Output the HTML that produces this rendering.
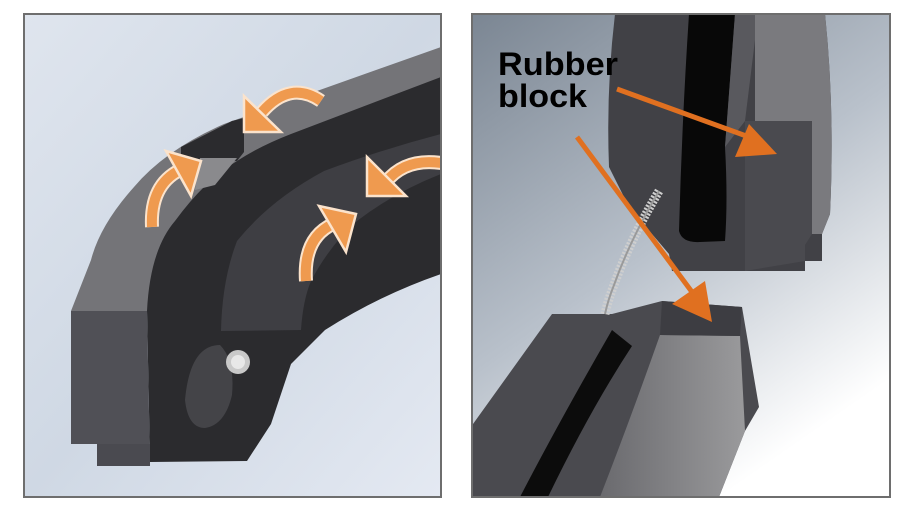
<!DOCTYPE html>
<html><head><meta charset="utf-8"><style>
html,body{margin:0;padding:0;background:#fff;width:902px;height:523px;overflow:hidden}
svg{display:block}
</style></head><body>
<svg width="902" height="523" viewBox="0 0 902 523" xmlns="http://www.w3.org/2000/svg">
<defs>
<linearGradient id="lbg" x1="0" y1="0" x2="1" y2="1">
<stop offset="0" stop-color="#dfe5ee"/><stop offset="0.5" stop-color="#cfd8e4"/><stop offset="1" stop-color="#e4e9f2"/></linearGradient>
<linearGradient id="rbg" x1="0" y1="0" x2="0.6" y2="1">
<stop offset="0" stop-color="#7b8693"/><stop offset="0.55" stop-color="#b9c1cb"/><stop offset="1" stop-color="#ffffff"/></linearGradient>
<linearGradient id="bface" x1="0" y1="0" x2="1" y2="0">
<stop offset="0" stop-color="#6a6a6e"/><stop offset="1" stop-color="#9a9a9c"/></linearGradient>
<clipPath id="cl"><rect x="25" y="15" width="415" height="481"/></clipPath>
<clipPath id="cr"><rect x="473" y="15" width="416" height="481"/></clipPath>
</defs>

<g clip-path="url(#cl)">
<rect x="25" y="15" width="415" height="481" fill="url(#lbg)"/>
<path d="M147 311 L150 462 L247 461 L271 424 L291 364 L325 330 Q380 295 441 274 L441 70 L232 121 L181 147 Q150 180 147 230 Z" fill="#2b2b2e"/>
<path d="M71 311 L147 311 Q150 250 175 221 Q205 180 237 161 Q260 146 291 134 L441 77 L441 47 L224 124 Q165 150 134 187 Q100 225 91 260 Z" fill="#747478"/>
<path d="M181 147 L232 121 L244 118 L244 152 L237 161 L181 160 Z" fill="#2b2b2e"/>
<path d="M200 158 L237 158 L215 185 L195 190 Z" fill="#8a8a8d"/>
<path d="M221 331 L301 330 Q303 300 311 281 Q330 245 357 221 Q395 192 441 174 L441 134 Q380 150 324 171 Q270 200 237 241 Q222 280 221 331 Z" fill="#3e3e43"/>
<path d="M71 311 L147 311 L150 462 L97 466 L97 444 L71 444 Z" fill="#505056"/>
<rect x="97" y="444" width="53" height="22" fill="#4a4a50"/>
<path d="M185 400 Q190 345 220 345 Q235 360 232 395 Q225 425 205 428 Q188 428 185 400 Z" fill="#444448"/>
<circle cx="238" cy="362" r="12" fill="#c9c9c9"/>
<circle cx="238" cy="362" r="7" fill="#e8e8e8"/>
<g fill="none" stroke="#fbe3cc" stroke-width="14" stroke-linecap="butt">
<path d="M321 101 Q290 80 262 112"/>
<path d="M152 227 Q150 185 180 170"/>
<path d="M441 163 Q405 158 386 182"/>
<path d="M306 281 Q303 238 333 224"/>
</g>
<g fill="none" stroke="#ef9a4f" stroke-width="10" stroke-linecap="butt">
<path d="M321 101 Q290 80 262 112"/>
<path d="M152 227 Q150 185 180 170"/>
<path d="M441 163 Q405 158 386 182"/>
<path d="M306 281 Q303 238 333 224"/>
</g>
<g fill="#ef9a4f" stroke="#fbe3cc" stroke-width="2.5" stroke-linejoin="miter">
<polygon points="244,96 244,132 281,132"/>
<polygon points="166,151 201,161 191,196"/>
<polygon points="367,157 367,196 406,196"/>
<polygon points="319,206 356,214 346,252"/>
</g>
</g>
<rect x="24" y="14" width="417" height="483" fill="none" stroke="#6e6e6e" stroke-width="2"/>

<g clip-path="url(#cr)">
<rect x="473" y="15" width="416" height="481" fill="url(#rbg)"/>
<path d="M615 14 Q606 90 609 167 L629 207 L669 254 L672 271 L805 271 L805 261 L822 261 L822 234 L830 214 Q835 110 825 14 Z" fill="#414146"/>
<path d="M755 14 L825 14 Q835 110 830 214 L822 234 L812 234 L812 121 L755 121 Z" fill="#7a7a7e"/>
<path d="M745 121 L812 121 L812 234 L805 245 L805 261 L745 271 Z" fill="#4a4a4f"/>
<path d="M689 14 Q682 120 679 231 Q682 243 700 242 L725 241 Q728 200 725 147 L735 14 Z" fill="#080808"/>
<path d="M735 14 L725 147 L745 121 L755 40 L755 14 Z" fill="#59595e"/>
<path d="M473 424 L552 314 L612 314 L662 301 L742 307 L759 407 L745 431 L719 497 L473 497 Z" fill="#4a4a4f"/>
<path d="M660 335 L740 336 L745 431 L719 497 L600 497 Q630 420 660 335 Z" fill="url(#bface)"/>
<path d="M612 330 Q560 420 520 497 L548 497 Q590 410 632 346 Z" fill="#0c0c0c"/>
<path d="M662 301 L742 307 L740 336 L660 335 Z" fill="#3d3d42"/>
<path d="M659 191 Q630 240 614 285 Q608 300 605 314" stroke="#cfcfcf" stroke-width="9" fill="none" stroke-dasharray="2 1.5"/>
<path d="M659 191 Q630 240 614 285 Q608 300 605 314" stroke="#9a9a9a" stroke-width="2" fill="none"/>
<line x1="617" y1="89" x2="760" y2="141" stroke="#e07020" stroke-width="5"/>
<polygon points="749,124 735,157 777,154" fill="#e07020"/>
<line x1="577" y1="137" x2="692" y2="292" stroke="#e07020" stroke-width="5"/>
<polygon points="672,304 705,281 712,322" fill="#e07020"/>
<text x="498" y="75" font-family="Liberation Sans, sans-serif" font-weight="bold" font-size="32" textLength="120" lengthAdjust="spacingAndGlyphs" fill="#000">Rubber</text>
<text x="498" y="107" font-family="Liberation Sans, sans-serif" font-weight="bold" font-size="32" textLength="89" lengthAdjust="spacingAndGlyphs" fill="#000">block</text>
</g>
<rect x="472" y="14" width="418" height="483" fill="none" stroke="#6e6e6e" stroke-width="2"/>
</svg>
</body></html>
